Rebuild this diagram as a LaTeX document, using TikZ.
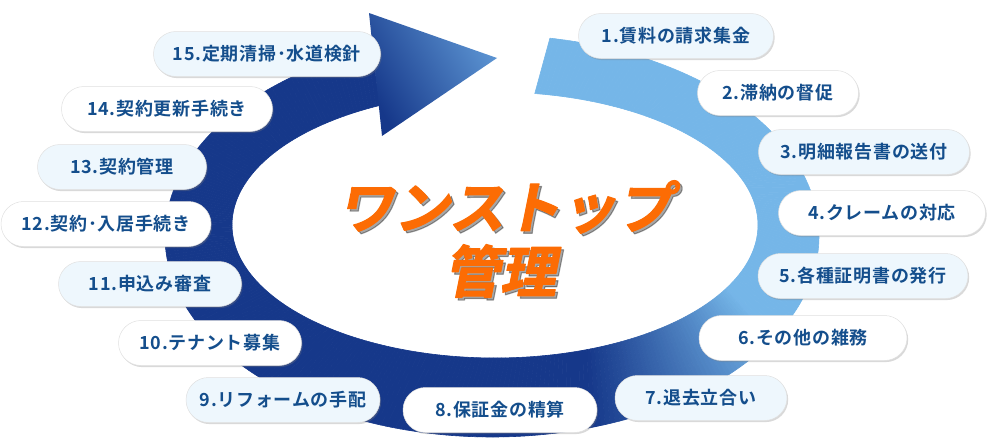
\documentclass[tikz,border=0pt]{standalone}
\usepackage{fontspec}
\setmainfont{Noto Sans CJK JP}[BoldFont={Noto Sans CJK JP Bold}]
\newfontfamily\pillfont{Noto Sans CJK JP Bold}[LetterSpace=4]
\newfontfamily\titlefont{Noto Sans CJK JP Bold}[FakeSlant=0.2, FakeBold=2]
\usetikzlibrary{shapes.misc,shadows}
\definecolor{navy}{RGB}{22,56,138}
\definecolor{sky}{RGB}{117,182,232}
\definecolor{headlight}{RGB}{92,148,210}
\definecolor{pale}{RGB}{238,247,253}
\definecolor{ink}{RGB}{20,78,140}
\definecolor{flame}{RGB}{252,108,4}

\begin{document}
\begin{tikzpicture}[x=1pt, y=-1pt, line join=round,
    pill/.style={rounded rectangle, draw=black!12, line width=0.5pt, minimum height=45pt,
        inner sep=0pt, text=ink, font=\pillfont\fontsize{18}{20}\selectfont,
        drop shadow={shadow xshift=1.2pt, shadow yshift=-1.6pt, opacity=0.3}},
    title/.style={text=flame, font=\titlefont\fontsize{56}{60}\selectfont, inner sep=0pt}]
    \useasboundingbox (0,0) rectangle (989,447);
    \foreach \k in {0,...,359} {
        \pgfmathsetmacro\pa{-79.8+328.3*(\k/360)}
        \pgfmathsetmacro\pb{-79.8+328.3*((\k+1)/360)}
        \pgfmathsetmacro\qa{-81.3+325.3*(\k/360)}
        \pgfmathsetmacro\qb{-81.3+325.3*((\k+1)/360)}
        \pgfmathsetmacro\pc{max(0,min(100,(72-\pa)*2.4))}
        \fill[sky!\pc!navy, draw=sky!\pc!navy, line width=0.6pt]
            ({492+327*cos(\pa)},{236+201*sin(\pa)}) -- ({492+327*cos(\pb)},{236+201*sin(\pb)})
            -- ({495+263*cos(\qb)},{225+133*sin(\qb)}) -- ({495+263*cos(\qa)},{225+133*sin(\qa)}) -- cycle;
    }
    \coordinate (headtop) at (369,13);
    \coordinate (headtip) at (497,58);
    \coordinate (headbot) at (382,136);
    \shade[top color=headlight, bottom color=navy, shading angle=-60]
        (headtop) -- (headtip) -- (headbot) -- cycle;
    \foreach \id/\x/\y/\lbl in {t1/505/207/ワンストップ, t2/500/271/管理} {
        \node[title, text=black, opacity=0.35] at (\x+2.5,\y+2.5) {\lbl};
        \node[title] (\id) at (\x,\y) {\lbl};
    }
    \foreach \id/\x/\y/\w/\fc/\lbl in {
        p1/676/36/195/pale/1.賃料の請求集金,
        p2/778/93/161/white/2.滞納の督促,
        p3/864/152/211/pale/3.明細報告書の送付,
        p4/882/213/207/white/4.クレームの対応,
        p5/863/276/210/pale/5.各種証明書の発行,
        p6/803/338/208/white/6.その他の雑務,
        p7/701/398/172/pale/7.退去立合い,
        p8/500/410/194/white/8.保証金の精算,
        p9/283/400/194/pale/9.リフォームの手配,
        p10/210/343/183/white/10.テナント募集,
        p11/150/284/183/pale/11.申込み審査,
        p12/106/224/210/white/12.契約･入居手続き,
        p13/122/167/169/pale/13.契約管理,
        p14/167/109/211/white/14.契約更新手続き,
        p15/267/54/227/pale/15.定期清掃･水道検針%
    } {
        \node[pill, fill=\fc, minimum width=\w pt] (\id) at (\x,\y) {\lbl};
    }
\end{tikzpicture}
\end{document}
